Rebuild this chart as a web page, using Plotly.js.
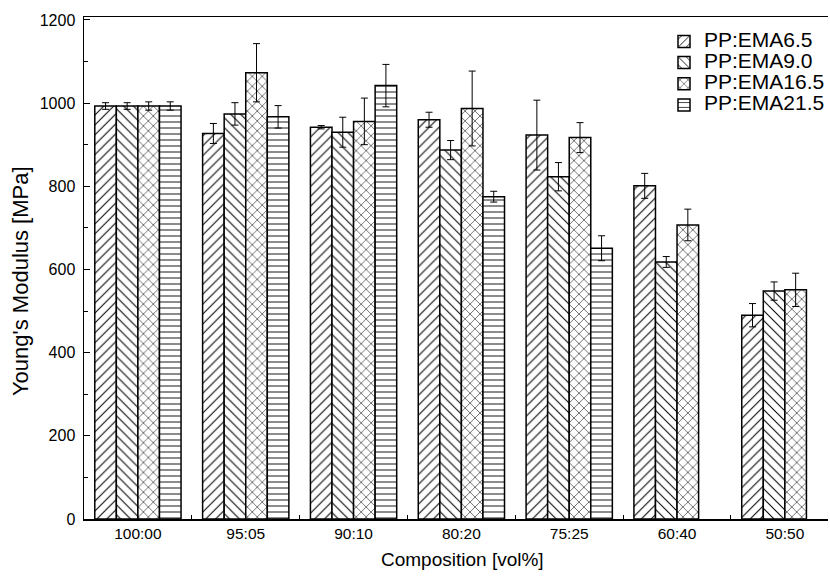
<!DOCTYPE html>
<html>
<head>
<meta charset="utf-8">
<script src="https://cdn.plot.ly/plotly-3.0.1.min.js"></script>
<style>html,body{margin:0;padding:0;background:#fff;}#chart{width:830px;height:576px;}</style>
</head>
<body>
<div id="chart"></div>
<script>
const categories = ["100:00", "95:05", "90:10", "80:20", "75:25", "60:40", "50:50"];
const seriesNames = ["PP:EMA6.5", "PP:EMA9.0", "PP:EMA16.5", "PP:EMA21.5"];
const ema65 = [993, 927, 942, 960, 923, 801, 490];
const ema65Err = [8, 24, 4, 18, 84, 30, 28];
const ema90 = [993, 974, 930, 887, 823, 618, 548];
const ema90Err = [8, 27, 36, 23, 34, 13, 22];
const ema165 = [993, 1073, 956, 987, 917, 707, 551];
const ema165Err = [10, 70, 56, 90, 36, 38, 40];
const ema215 = [993, 967, 1042, 775, 651, null, null];
const ema215Err = [10, 27, 51, 13, 30, null, null];

const values = [ema65, ema90, ema165, ema215];
const errors = [ema65Err, ema90Err, ema165Err, ema215Err];
const shapes = ["/", "\\", "x", "-"];
const sizes = [7, 7, 7, 6];

const traces = values.map((v, i) => ({
  type: "bar",
  name: '<span style="font-size:21px">' + seriesNames[i] + '</span>',
  x: categories,
  y: v,
  error_y: {type: "data", array: errors[i], visible: true, color: "#000", thickness: 1, width: 3.5},
  marker: {
    color: "#fff",
    line: {color: "#000", width: 1.5},
    pattern: {shape: shapes[i], fgcolor: "#000", bgcolor: "#fff", size: sizes[i], solidity: 0.15, fillmode: "replace"}
  }
}));

const font = "Liberation Sans, Arial, Helvetica, sans-serif";
const layout = {
  width: 830, height: 576,
  margin: {l: 84, r: 0, t: 17, b: 57},
  paper_bgcolor: "#fff", plot_bgcolor: "#fff",
  font: {family: font, color: "#000", size: 15},
  barmode: "group", bargap: 0.2, bargroupgap: 0,
  showlegend: true,
  legend: {x: 0.78, xanchor: "left", y: 0.9825, yanchor: "top", font: {size: 14, family: font}, bgcolor: "rgba(0,0,0,0)", tracegroupgap: 0, itemwidth: 30},
  xaxis: {
    type: "category", range: [-0.5, 6.4],
    showline: true, linecolor: "#000", linewidth: 1.5, mirror: true,
    ticks: "inside", ticklen: 4, tickcolor: "#000", tickson: "boundaries",
    showgrid: false, zeroline: false,
    tickfont: {size: 15.5}
  },
  yaxis: {
    range: [0, 1207], dtick: 200, tick0: 0,
    showline: true, linecolor: "#000", linewidth: 1.5, mirror: false,
    ticks: "inside", ticklen: 6, tickcolor: "#000",
    minor: {dtick: 100, ticks: "inside", ticklen: 4, tickcolor: "#000", showgrid: false},
    showgrid: false, zeroline: false,
    ticklabelstandoff: 4,
    tickfont: {size: 16}
  },
  annotations: [{
    text: "Young's Modulus [MPa]",
    xref: "paper", yref: "paper", x: 0, y: 0.474, xshift: -64,
    xanchor: "center", yanchor: "middle", textangle: -90, showarrow: false,
    font: {size: 22, family: font, color: "#000"}
  }, {
    text: "Composition [vol%]",
    xref: "paper", yref: "paper", x: 0.509, y: 0, yshift: -40,
    xanchor: "center", yanchor: "middle", showarrow: false,
    font: {size: 19, family: font, color: "#000"}
  }]
};

Plotly.newPlot("chart", traces, layout, {staticPlot: true, displayModeBar: false});
</script>
</body>
</html>
